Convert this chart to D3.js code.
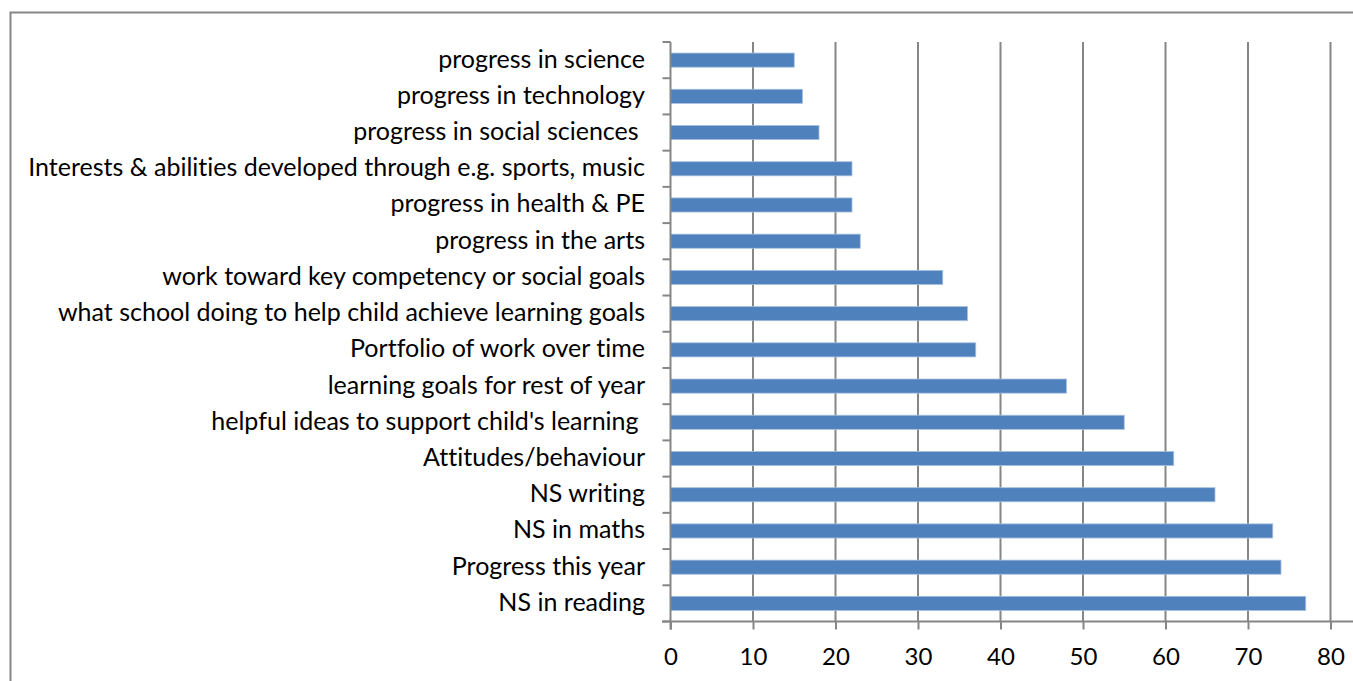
<!DOCTYPE html>
<html><head><meta charset="utf-8">
<script src="https://cdn.jsdelivr.net/npm/d3@7"></script>
<style>
html,body{margin:0;padding:0;background:#fff;}
svg{display:block;}
text{font-family:Lato,"Open Sans",sans-serif;fill:#000;font-variant-ligatures:none;font-feature-settings:"liga" 0,"clig" 0;}
</style></head>
<body>
<svg id="c" width="1353" height="681"></svg>
<script>
const categories = [
  "progress in science",
  "progress in technology",
  "progress in social sciences ",
  "Interests & abilities developed through e.g. sports, music",
  "progress in health & PE",
  "progress in the arts",
  "work toward key competency or social goals",
  "what school doing to help child achieve learning goals",
  "Portfolio of work over time",
  "learning goals for rest of year",
  "helpful ideas to support child's learning ",
  "Attitudes/behaviour",
  "NS writing",
  "NS in maths",
  "Progress this year",
  "NS in reading"
];
const values = [15, 16, 18, 22, 22, 23, 33, 36, 37, 48, 55, 61, 66, 73, 74, 77];
const xTicks = [0, 10, 20, 30, 40, 50, 60, 70, 80];

(function(){
const svg = d3.select("#c");
const pL = 670.5, pR = 1330.5, pT = 42, pB = 621.5;
const grey = "#868686";

// frame
svg.append("path").attr("d", "M10.5,690 L10.5,12.5 L1360,12.5")
  .attr("fill", "none").attr("stroke", grey).attr("stroke-width", 2);

const x = d3.scaleLinear().domain([0, 80]).range([pL, pR]);
const y = d3.scaleBand().domain(categories).range([pT, pB]).paddingInner(0.61).paddingOuter(0.305);

// gridlines
svg.append("g").selectAll("line").data(xTicks.filter(d => d > 0)).join("line")
  .attr("x1", d => x(d)).attr("x2", d => x(d))
  .attr("y1", pT).attr("y2", pB)
  .attr("stroke", grey).attr("stroke-width", 2);

// bars
svg.append("g").selectAll("rect").data(values).join("rect")
  .attr("x", x(0))
  .attr("y", (d, i) => y(categories[i]))
  .attr("width", d => x(d) - x(0))
  .attr("height", y.bandwidth())
  .attr("fill", "#4F81BD")
  .attr("stroke", "#A7C0DE").attr("stroke-width", 0.8);

// x axis
const xa = svg.append("g").attr("transform", `translate(0,${pB})`)
  .call(d3.axisBottom(x).tickValues(xTicks).tickSize(8).tickPadding(18).tickFormat(d3.format("d")));
xa.select(".domain").remove();
xa.selectAll(".tick line").attr("stroke", grey).attr("stroke-width", 2);
xa.selectAll(".tick text").attr("font-size", 24).attr("font-family", "Lato,'Open Sans',sans-serif").attr("fill", "#000");
svg.append("line").attr("x1", 662).attr("x2", 1353).attr("y1", pB).attr("y2", pB)
  .attr("stroke", grey).attr("stroke-width", 2);

// y axis
const yTickPos = d3.range(categories.length + 1).map(i => pT + i * y.step());
svg.append("line").attr("x1", pL).attr("x2", pL).attr("y1", pT).attr("y2", pB + 8)
  .attr("stroke", grey).attr("stroke-width", 2);
svg.append("g").selectAll("line").data(yTickPos).join("line")
  .attr("x1", pL - 8).attr("x2", pL).attr("y1", d => d).attr("y2", d => d)
  .attr("stroke", grey).attr("stroke-width", 2);

// category labels
const lab = svg.append("g").selectAll("text").data(categories).join("text")
  .attr("x", 645)
  .attr("y", d => y(d) + y.bandwidth() / 2 + 7.5)
  .attr("text-anchor", "end")
  .attr("font-size", 21)
  .style("white-space", "pre")
  .attr("xml:space", "preserve")
  .text(d => d);
let maxW = 0;
lab.each(function(d){ if (d.startsWith("Interests")) maxW = this.getComputedTextLength(); });
if (maxW > 0) {
  const fs = 21 * 617 / maxW;
  lab.attr("font-size", fs);
}
})();
</script>
</body></html>
